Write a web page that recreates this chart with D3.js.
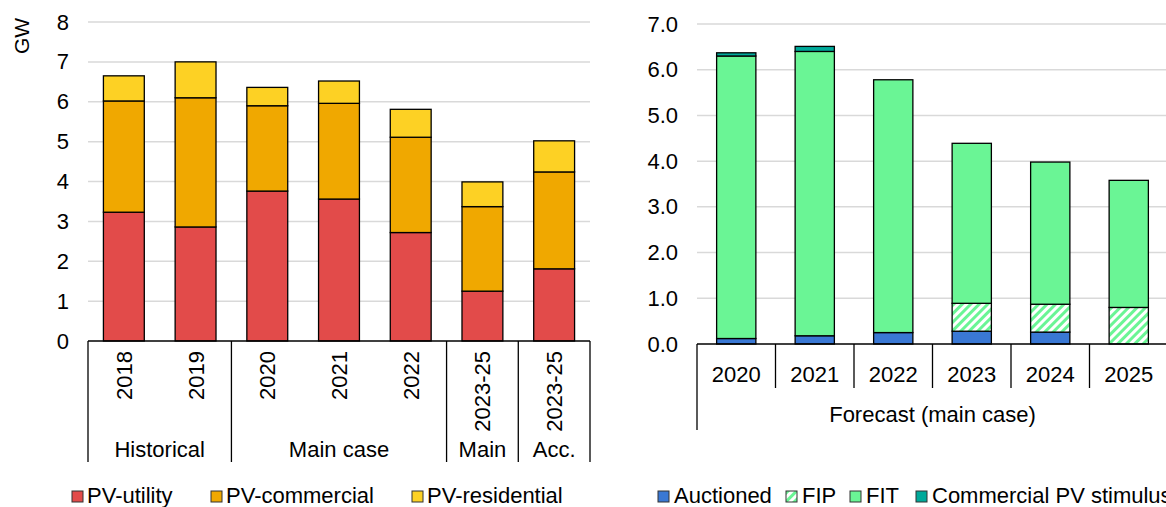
<!DOCTYPE html>
<html>
<head>
<meta charset="utf-8">
<script src="https://d3js.org/d3.v7.min.js"></script>
<style>
  body { margin: 0; background: #fff; }
  text { font-family: "Liberation Sans", Arial, sans-serif; fill: #000; }
</style>
</head>
<body>
<div id="vis"></div>
<script>
// ---- left chart data (GW)
var leftCats = ["2018", "2019", "2020", "2021", "2022", "2023-25", "2023-25"];
var leftGroups = [
  {name: "Historical", from: 0, to: 2},
  {name: "Main case", from: 2, to: 5},
  {name: "Main", from: 5, to: 6},
  {name: "Acc.", from: 6, to: 7}
];
var pvUtility     = [3.23, 2.86, 3.76, 3.56, 2.72, 1.25, 1.81];
var pvCommercial  = [2.79, 3.24, 2.14, 2.40, 2.39, 2.12, 2.43];
var pvResidential = [0.63, 0.90, 0.46, 0.56, 0.70, 0.62, 0.78];
var leftTicks = [0, 1, 2, 3, 4, 5, 6, 7, 8];

// ---- right chart data (GW)
var rightCats = ["2020", "2021", "2022", "2023", "2024", "2025"];
var rightGroup = "Forecast (main case)";
var auctioned  = [0.12, 0.18, 0.25, 0.28, 0.26, 0.00];
var fip        = [0.00, 0.00, 0.00, 0.61, 0.61, 0.80];
var fit        = [6.18, 6.22, 5.53, 3.50, 3.11, 2.78];
var commercial = [0.07, 0.11, 0.00, 0.00, 0.00, 0.00];
var rightTicks = [0, 1, 2, 3, 4, 5, 6, 7];

var W = 1166, H = 507;
var FS = 22;

var svg = d3.select("#vis").append("svg")
  .attr("width", W)
  .attr("height", H);

var defs = svg.append("defs");
var pat = defs.append("pattern")
  .attr("id", "hatch")
  .attr("patternUnits", "userSpaceOnUse")
  .attr("width", 6).attr("height", 6)
  .attr("patternTransform", "rotate(45)");
pat.append("rect").attr("width", 6).attr("height", 6).attr("fill", "#fff");
pat.append("rect").attr("width", 3).attr("height", 6).attr("fill", "#6af595");

// ================= LEFT =================
var leftKeys = ["utility", "commercial", "residential"];
var leftColors = {utility: "#e24b4a", commercial: "#f0a800", residential: "#fdd124"};
var leftNames = {utility: "PV-utility", commercial: "PV-commercial", residential: "PV-residential"};

var leftRows = leftCats.map(function (c, i) {
  return {i: i, utility: pvUtility[i], commercial: pvCommercial[i], residential: pvResidential[i]};
});

var xL = d3.scaleBand().domain(d3.range(leftCats.length)).range([88, 590]).paddingInner(0.43).paddingOuter(0.215);
var yL = d3.scaleLinear().domain([0, 8]).range([341, 22]);

var gL = svg.append("g");

// gridlines
gL.append("g").selectAll("line").data(leftTicks.slice(1)).enter().append("line")
  .attr("x1", 88).attr("x2", 590)
  .attr("y1", function (d) { return yL(d); })
  .attr("y2", function (d) { return yL(d); })
  .attr("stroke", "#d9d9d9").attr("stroke-width", 1.5);

// y axis labels
var yAxisL = d3.axisLeft(yL).tickValues(leftTicks).tickSize(0).tickPadding(0).tickFormat(d3.format("d"));
gL.append("g").attr("transform", "translate(69,0)").call(yAxisL)
  .call(function (g) { g.select(".domain").remove(); })
  .selectAll("text").style("font-size", FS + "px").attr("font-family", null);

gL.append("text")
  .attr("transform", "translate(29,36) rotate(-90)")
  .attr("text-anchor", "middle")
  .style("font-size", (FS - 1) + "px")
  .text("GW");

// bars
var stackL = d3.stack().keys(leftKeys)(leftRows);
gL.append("g").selectAll("g").data(stackL).enter().append("g")
  .attr("fill", function (d) { return leftColors[d.key]; })
  .selectAll("rect").data(function (d) { return d; }).enter().append("rect")
  .attr("x", function (d) { return xL(d.data.i); })
  .attr("width", xL.bandwidth())
  .attr("y", function (d) { return yL(d[1]); })
  .attr("height", function (d) { return yL(d[0]) - yL(d[1]); })
  .attr("stroke", "#000").attr("stroke-width", 1.3);

// category axis
gL.append("line").attr("x1", 88).attr("x2", 590).attr("y1", 341).attr("y2", 341)
  .attr("stroke", "#000").attr("stroke-width", 1.5);

var stepL = xL.step();
var leftDiv = [0, 2, 5, 6, 7];
gL.append("g").selectAll("line").data(leftDiv).enter().append("line")
  .attr("x1", function (d) { return 88 + d * stepL; })
  .attr("x2", function (d) { return 88 + d * stepL; })
  .attr("y1", 341).attr("y2", 462)
  .attr("stroke", "#000").attr("stroke-width", 1.3);

gL.append("g").selectAll("text").data(leftCats).enter().append("text")
  .attr("transform", function (d, i) {
    return "translate(" + (xL(i) + xL.bandwidth() / 2 + 8) + ",351) rotate(-90)";
  })
  .attr("text-anchor", "end")
  .style("font-size", FS + "px")
  .text(function (d) { return d; });

gL.append("g").selectAll("text").data(leftGroups).enter().append("text")
  .attr("x", function (d) { return 88 + (d.from + d.to) / 2 * stepL; })
  .attr("y", 457)
  .attr("text-anchor", "middle")
  .style("font-size", FS + "px")
  .text(function (d) { return d.name; });

// legend
var legL = gL.append("g").selectAll("g").data(leftKeys).enter().append("g")
  .attr("transform", function (d, i) { return "translate(" + [72, 211, 412][i] + ",491)"; });
legL.append("rect").attr("width", 11).attr("height", 11)
  .attr("fill", function (d) { return leftColors[d]; })
  .attr("stroke", "#333").attr("stroke-width", 1);
legL.append("text").attr("x", 15).attr("y", 12)
  .style("font-size", FS + "px")
  .text(function (d) { return leftNames[d]; });

// ================= RIGHT =================
var rightKeys = ["auctioned", "fip", "fit", "commercial"];
var rightFills = {auctioned: "#3a78d4", fip: "url(#hatch)", fit: "#6af595", commercial: "#00a99a"};
var rightNames = {auctioned: "Auctioned", fip: "FIP", fit: "FIT", commercial: "Commercial PV stimulus"};

var rightRows = rightCats.map(function (c, i) {
  return {i: i, auctioned: auctioned[i], fip: fip[i], fit: fit[i], commercial: commercial[i]};
});

var xR = d3.scaleBand().domain(d3.range(rightCats.length)).range([697, 1168]).paddingInner(0.5).paddingOuter(0.25);
var yR = d3.scaleLinear().domain([0, 7]).range([344, 24]);

var gR = svg.append("g");

gR.append("g").selectAll("line").data(rightTicks.slice(1)).enter().append("line")
  .attr("x1", 697).attr("x2", 1168)
  .attr("y1", function (d) { return yR(d); })
  .attr("y2", function (d) { return yR(d); })
  .attr("stroke", "#d9d9d9").attr("stroke-width", 1.5);

var yAxisR = d3.axisLeft(yR).tickValues(rightTicks).tickSize(0).tickPadding(0).tickFormat(d3.format(".1f"));
gR.append("g").attr("transform", "translate(678,0)").call(yAxisR)
  .call(function (g) { g.select(".domain").remove(); })
  .selectAll("text").style("font-size", FS + "px").attr("font-family", null);

var stackR = d3.stack().keys(rightKeys)(rightRows);
gR.append("g").selectAll("g").data(stackR).enter().append("g")
  .attr("fill", function (d) { return rightFills[d.key]; })
  .selectAll("rect").data(function (d) { return d.filter(function (s) { return s[1] - s[0] > 0; }); })
  .enter().append("rect")
  .attr("x", function (d) { return xR(d.data.i); })
  .attr("width", xR.bandwidth())
  .attr("y", function (d) { return yR(d[1]); })
  .attr("height", function (d) { return yR(d[0]) - yR(d[1]); })
  .attr("stroke", "#000").attr("stroke-width", 1.3);

gR.append("line").attr("x1", 697).attr("x2", 1168).attr("y1", 344).attr("y2", 344)
  .attr("stroke", "#000").attr("stroke-width", 1.5);

var stepR = xR.step();
gR.append("g").selectAll("line").data(d3.range(1, rightCats.length)).enter().append("line")
  .attr("x1", function (d) { return 697 + d * stepR; })
  .attr("x2", function (d) { return 697 + d * stepR; })
  .attr("y1", 344).attr("y2", 388)
  .attr("stroke", "#000").attr("stroke-width", 1.3);
gR.append("line").attr("x1", 697).attr("x2", 697).attr("y1", 344).attr("y2", 430)
  .attr("stroke", "#000").attr("stroke-width", 1.3);

gR.append("g").selectAll("text").data(rightCats).enter().append("text")
  .attr("x", function (d, i) { return xR(i) + xR.bandwidth() / 2; })
  .attr("y", 382)
  .attr("text-anchor", "middle")
  .style("font-size", FS + "px")
  .text(function (d) { return d; });

gR.append("text")
  .attr("x", (697 + 1168) / 2).attr("y", 422)
  .attr("text-anchor", "middle")
  .style("font-size", FS + "px")
  .text(rightGroup);

var legR = gR.append("g").selectAll("g").data(rightKeys).enter().append("g")
  .attr("transform", function (d, i) { return "translate(" + [658, 786, 850, 916][i] + ",491)"; });
legR.append("rect").attr("width", 11).attr("height", 11)
  .attr("fill", function (d) { return rightFills[d]; })
  .attr("stroke", "#333").attr("stroke-width", 1);
legR.append("text").attr("x", 16).attr("y", 12)
  .style("font-size", FS + "px")
  .text(function (d) { return rightNames[d]; });
</script>
</body>
</html>
